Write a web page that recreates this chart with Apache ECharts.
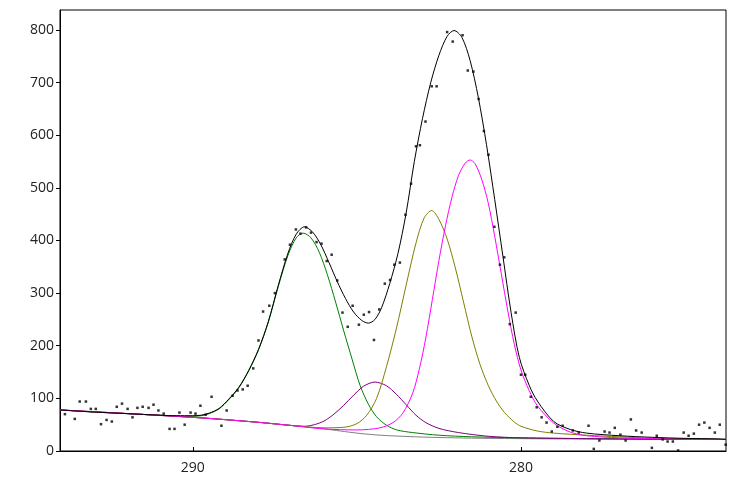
<!DOCTYPE html>
<html><head><meta charset="utf-8">
<script src="https://cdn.jsdelivr.net/npm/echarts@6/dist/echarts.min.js"></script>
<style>html,body{margin:0;padding:0;background:#fff}#c{width:736px;height:479px}</style>
</head><body><div id="c"></div>
<script>
const xTicks = [290, 280];
const background = [[294.05,78],[293,74],[292,71],[291,67.5],[290,64],[289,59.5],[288,54.5],[287,48.5],[286.5,45.5],[286,42],[285.5,38],[285,34],[284.5,31],[284,29],[283,26.5],[282,25],[281,24],[280,23.5],[279,23],[277,22.5],[275,22],[273.75,22]];
const greenFit = [[294.05,78],[293,74],[292,71],[291,68],[290.5,66.5],[290,66],[289.75,67],[289.5,71],[289.2,80],[288.9,98],[288.6,120],[288.3,152],[288.0,192],[287.7,245],[287.4,312],[287.1,372],[286.85,405],[286.64,414],[286.4,405],[286.15,378],[285.9,335],[285.65,283],[285.4,228],[285.15,175],[284.9,124],[284.65,89],[284.4,65],[284.1,49],[283.78,40],[283.3,35],[282.5,30],[281.5,27],[280,25],[278,23.5],[276,22.5],[273.75,22]];
const purpleFit = [[294.05,78],[290,64],[288,54.5],[287,48.5],[286.6,47],[286.3,50],[286.0,57],[285.7,70],[285.4,87],[285.1,106],[284.8,123],[284.45,131],[284.1,124],[283.8,108],[283.5,88],[283.2,68],[282.9,54],[282.5,43],[281.9,35],[281,28],[280,25],[278,23.5],[276,22.5],[273.75,22]];
const oliveFit = [[294.05,78],[290,64],[288,54.5],[287,48.5],[286,44],[285.4,45],[285.0,52],[284.7,68],[284.4,100],[284.1,160],[283.8,232],[283.5,315],[283.2,395],[282.95,443],[282.72,457],[282.5,440],[282.25,403],[282,348],[281.75,283],[281.5,218],[281.25,165],[281,125],[280.75,95],[280.5,73],[280.2,55],[280,47],[279.5,38],[279,34],[278,30],[277,27],[276,24],[273.75,22]];
const magentaFit = [[294.05,78],[290,64],[288,54.5],[287,48.5],[286,42],[285,40],[284.3,44],[283.9,54],[283.6,72],[283.3,110],[283.1,155],[282.9,215],[282.7,288],[282.5,362],[282.3,428],[282.1,483],[281.9,524],[281.7,547],[281.55,553],[281.4,546],[281.2,517],[281,472],[280.8,408],[280.6,337],[280.4,266],[280.2,202],[280,154],[279.75,115],[279.5,86],[279,53],[278.5,36],[278,29],[277,25],[276,23.5],[273.75,22]];
const totalFit = [[294.05,78],[293,74],[292,71],[291,68],[290.5,67],[290,67],[289.75,68],[289.5,72],[289.2,81],[288.9,99],[288.6,121],[288.3,153],[288.0,193],[287.7,246],[287.4,314],[287.1,376],[286.85,412],[286.6,426],[286.35,416],[286.1,392],[285.85,358],[285.6,322],[285.35,290],[285.1,264],[284.85,248],[284.65,243],[284.45,250],[284.25,272],[284.0,318],[283.75,375],[283.5,452],[283.25,550],[283.0,632],[282.75,700],[282.5,752],[282.25,788],[282.04,799],[281.8,786],[281.55,742],[281.3,672],[281.05,582],[280.8,478],[280.55,370],[280.3,263],[280.05,178],[279.75,125],[279.5,95],[279,56],[278.5,41],[278,34],[277,29],[276,26],[275,24],[274,23],[273.75,22]];
const measured = [[293.90,70],[293.60,61],[293.45,94],[293.26,94],[293.11,80],[292.96,80],[292.80,51],[292.63,59],[292.47,56],[292.32,84],[292.16,90],[291.99,80],[291.84,64],[291.69,82],[291.53,84],[291.35,82],[291.20,88],[291.05,77],[290.89,71],[290.71,42],[290.56,42],[290.41,73],[290.25,50],[290.07,73],[289.92,71],[289.77,86],[289.61,69],[289.43,103],[289.13,48],[288.97,77],[288.79,105],[288.64,115],[288.48,117],[288.33,124],[288.16,157],[288.0,210],[287.86,265],[287.67,276],[287.50,300],[287.20,364],[287.04,392],[286.86,421],[286.72,413],[286.55,425],[286.40,415],[286.23,397],[286.08,394],[285.92,361],[285.77,373],[285.60,324],[285.44,263],[285.28,236],[285.13,276],[284.94,240],[284.79,259],[284.63,264],[284.48,211],[284.32,269],[284.15,318],[283.99,325],[283.86,354],[283.69,358],[283.52,449],[283.35,508],[283.20,579],[283.08,581],[282.91,626],[282.72,693],[282.57,693],[282.41,840],[282.25,796],[282.08,778],[281.78,790],[281.62,723],[281.45,721],[281.29,669],[281.13,608],[280.99,563],[280.81,426],[280.64,354],[280.51,368],[280.34,241],[280.16,263],[280.00,145],[279.87,145],[279.70,103],[279.52,83],[279.37,64],[279.22,54],[279.06,37],[278.89,46],[278.73,48],[278.42,39],[278.24,35],[277.94,48],[277.78,4],[277.61,20],[277.45,37],[277.30,35],[277.14,44],[276.97,31],[276.81,20],[276.65,60],[276.49,39],[276.32,35],[276.01,6],[275.86,29],[275.68,22],[275.53,18],[275.37,18],[275.21,1],[275.04,35],[274.89,29],[274.73,33],[274.57,50],[274.41,54],[274.25,44],[274.09,35],[273.94,50],[273.76,12]];

const chart = echarts.init(document.getElementById('c'));
function line(data, color, z){return {type:'line', data, smooth:0.3, showSymbol:false, symbol:'none', lineStyle:{color, width:1}, z, animation:false};}
chart.setOption({
  animation:false,
  grid:{left:60, right:10, top:10, bottom:28, show:true, borderColor:'#000', borderWidth:1, backgroundColor:'#fff'},
  xAxis:{type:'value', inverse:true, min:273.75, max:294.05,
    axisLine:{onZero:false, lineStyle:{color:'#000'}},
    axisTick:{customValues:xTicks, inside:true, length:4, lineStyle:{color:'#000'}},
    axisLabel:{customValues:xTicks, color:'#222', fontSize:14, fontFamily:'Open Sans', margin:10},
    splitLine:{show:false}},
  yAxis:{type:'value', min:0, max:838, interval:100,
    axisLine:{show:true, lineStyle:{color:'#000'}},
    axisTick:{show:true, length:4, lineStyle:{color:'#000'}},
    axisLabel:{color:'#222', fontSize:14, fontFamily:'Open Sans', showMaxLabel:false, margin:6},
    splitLine:{show:false}},
  series:[
    line(background,'#808080',1),
    line(greenFit,'#008000',2),
    line(purpleFit,'#800080',3),
    line(oliveFit,'#808000',3),
    line(magentaFit,'#ff00ff',4),
    line(totalFit,'#000000',5),
    {type:'scatter', data:measured, symbol:'rect', symbolSize:2.5, itemStyle:{color:'#000'}, z:6, animation:false}
  ]
});
</script></body></html>
